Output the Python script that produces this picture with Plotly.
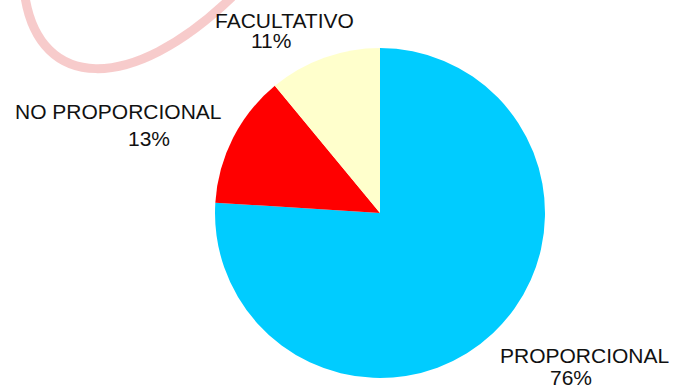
import plotly.graph_objects as go

# Distribution by contract type
categories = ["PROPORCIONAL", "NO PROPORCIONAL", "FACULTATIVO"]
shares = [76, 13, 11]
colors = ["#00CCFF", "#FF0000", "#FFFFCC"]

W, H = 675, 390

# label anchor points in pixels: (name x, name y, pct x, pct y)
label_pos = {
    "PROPORCIONAL": (584, 355, 571, 377),
    "NO PROPORCIONAL": (118, 111, 149, 138),
    "FACULTATIVO": (284, 20, 271, 41),
}


def px(x):
    return x / W


def py(y):
    return 1 - y / H


# pie centre and radius in pixels
cx, cy, r = 380, 213, 165

fig = go.Figure(
    go.Pie(
        labels=categories,
        values=shares,
        marker=dict(colors=colors, line=dict(width=0)),
        sort=False,
        direction="clockwise",
        rotation=0,
        textinfo="none",
        hoverinfo="label+percent",
        domain=dict(x=[px(cx - r), px(cx + r)], y=[py(cy + r), py(cy - r)]),
        showlegend=False,
    )
)

font = dict(family="Liberation Sans, Arial, sans-serif", size=21, color="#111111")
annotations = []
for cat, val in zip(categories, shares):
    nx, ny, vx, vy = label_pos[cat]
    annotations.append(dict(x=px(nx), y=py(ny), xref="paper", yref="paper", text=cat,
                            showarrow=False, font=font, xanchor="center", yanchor="middle"))
    annotations.append(dict(x=px(vx), y=py(vy), xref="paper", yref="paper", text=f"{val}%",
                            showarrow=False, font=font, xanchor="center", yanchor="middle"))

# faint pink brush stroke in the top-left corner
pts = [(25, -3), (40, 90), (130, 95), (232, -3)]
p = [(px(x), py(y)) for x, y in pts]
path = "M {},{} C {},{} {},{} {},{}".format(*[c for xy in p for c in xy])

fig.update_layout(
    width=W,
    height=H,
    margin=dict(l=0, r=0, t=0, b=0),
    paper_bgcolor="white",
    plot_bgcolor="white",
    annotations=annotations,
    shapes=[dict(type="path", path=path, xref="paper", yref="paper",
                 line=dict(color="rgba(238,140,140,0.45)", width=9), layer="below")],
)

fig.write_html("out.html")
